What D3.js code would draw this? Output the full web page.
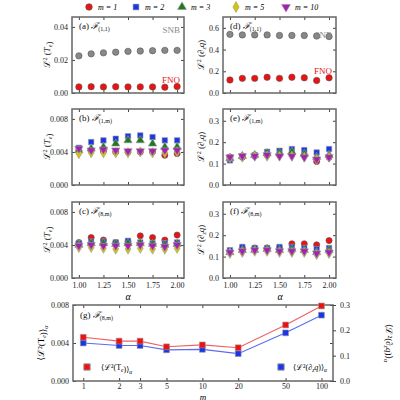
<!DOCTYPE html>
<html><head><meta charset="utf-8">
<script src="https://cdn.jsdelivr.net/npm/d3@7"></script>
<style>body{margin:0;background:#fff}text{font-family:"Liberation Serif","DejaVu Serif",serif}</style>
</head><body><svg id="c" width="400" height="400"></svg>
<script>
const alphas = [1, 1.125, 1.25, 1.375, 1.5, 1.625, 1.75, 1.875, 2];
const mLabels = ['m = 1', 'm = 2', 'm = 3', 'm = 5', 'm = 10'];
const snbT = [0.0225,0.0237,0.0243,0.0247,0.0252,0.0254,0.0256,0.0258,0.0258];
const fnoT = [0.0037,0.0038,0.0037,0.0038,0.0037,0.0037,0.0037,0.0035,0.0039];
const snbQ = [0.54,0.535,0.535,0.535,0.53,0.53,0.53,0.525,0.52];
const fnoQ = [0.12,0.135,0.135,0.145,0.135,0.145,0.14,0.115,0.14];
// order m=1,2,3,5,10
const bT = [
 [0.0042,0.0042,0.0041,0.0040,0.0040,0.0040,0.0040,0.0036,0.0038],
 [0.0045,0.0052,0.0054,0.0056,0.0059,0.0060,0.0058,0.0054,0.0054],
 [0.0042,0.0044,0.0046,0.0050,0.0054,0.0054,0.0050,0.0046,0.0046],
 [0.0038,0.0039,0.0039,0.0039,0.0039,0.0040,0.0039,0.0039,0.0040],
 [0.0044,0.0042,0.0043,0.0042,0.0041,0.0041,0.0041,0.0042,0.0042]];
const cT = [
 [0.0043,0.0049,0.0046,0.0043,0.0044,0.0051,0.0049,0.0046,0.0052],
 [0.0042,0.0044,0.0044,0.0043,0.0045,0.0043,0.0042,0.0042,0.0043],
 [0.0040,0.0042,0.0042,0.0041,0.0042,0.0042,0.0041,0.0040,0.0041],
 [0.0037,0.0037,0.0036,0.0035,0.0035,0.0036,0.0035,0.0035,0.0036],
 [0.0039,0.0040,0.0039,0.0039,0.0039,0.0040,0.0039,0.0038,0.0040]];
const eQ = [
 [0.13,0.13,0.135,0.14,0.14,0.145,0.14,0.11,0.13],
 [0.115,0.135,0.14,0.155,0.16,0.168,0.163,0.152,0.168],
 [0.125,0.135,0.14,0.148,0.15,0.155,0.145,0.13,0.14],
 [0.125,0.13,0.135,0.135,0.135,0.135,0.13,0.12,0.13],
 [0.13,0.135,0.135,0.14,0.135,0.135,0.13,0.12,0.13]];
const fQ = [
 [0.125,0.14,0.14,0.14,0.14,0.16,0.16,0.155,0.175],
 [0.13,0.145,0.14,0.14,0.145,0.145,0.14,0.135,0.14],
 [0.12,0.13,0.13,0.135,0.13,0.135,0.13,0.12,0.13],
 [0.115,0.12,0.125,0.125,0.12,0.12,0.12,0.11,0.115],
 [0.12,0.125,0.13,0.13,0.125,0.125,0.125,0.115,0.12]];
const mVals = [1, 2, 3, 5, 10, 20, 50, 100];
const gT = [0.0046,0.0042,0.0042,0.0036,0.0038,0.0035,0.0059,0.0079];
const gQ = [0.15,0.14,0.14,0.123,0.125,0.108,0.19,0.26];

const colors = ['#ee1111','#1a35e8','#1f7a1f','#d8c400','#a51fb0'];
const shapes = [d3.symbolCircle, d3.symbolSquare, d3.symbolTriangle, d3.symbolDiamond, 'tri-down'];
const svg = d3.select('#c');

function marker(g, k, x, y, size) {
  const down = shapes[k] === 'tri-down';
  g.append('path').attr('d', d3.symbol(down ? d3.symbolTriangle : shapes[k], size)())
    .attr('transform', `translate(${x},${y})` + (down ? ' rotate(180)' : ''))
    .attr('fill', colors[k]).attr('stroke', shapes[k] === d3.symbolCircle ? '#555' : '#999').attr('stroke-width', 0.6);
}

function frame(x0, y0, w, h, x, y, yTicks, yFmt, showX, xTicks, xFmt) {
  const g = svg.append('g');
  const ax = (gen, tx, ty, ticks, fmt, show) => {
    const a = g.append('g').attr('transform', `translate(${tx},${ty})`)
      .call(gen.tickValues(ticks).tickSizeInner(-3).tickSizeOuter(0).tickPadding(4).tickFormat(show ? fmt : ''));
    a.select('.domain').remove();
    a.selectAll('line').attr('stroke', '#444');
    a.selectAll('text').attr('font-size', 8).attr('fill', '#222');
  };
  ax(d3.axisLeft(y), x0, 0, yTicks, yFmt, true);
  ax(d3.axisRight(y), x0 + w, 0, yTicks, yFmt, false);
  ax(d3.axisBottom(x), 0, y0 + h, xTicks, xFmt, showX);
  ax(d3.axisTop(x), 0, y0, xTicks, xFmt, false);
  g.append('rect').attr('x', x0).attr('y', y0).attr('width', w).attr('height', h)
    .attr('fill', 'none').attr('stroke', '#666').attr('stroke-width', 1.5);
  return g;
}

function label(g, x, y, tag, sub) {
  const t = g.append('text').attr('x', x).attr('y', y).attr('font-size', 9).attr('fill', '#111');
  t.append('tspan').text(tag + '   ');
  t.append('tspan').attr('font-style', 'italic').text('ℱ');
  t.append('tspan').attr('font-size', 6).attr('dy', 2).text(sub);
}

function ylab(x, y, inner) {
  const t = svg.append('text').attr('transform', `translate(${x},${y}) rotate(-90)`)
    .attr('text-anchor', 'middle').attr('font-size', 9).attr('fill', '#111');
  t.append('tspan').text('ℒ');
  t.append('tspan').attr('font-size', 6).attr('dy', -3).text('2');
  t.append('tspan').attr('dy', 3).text(' (');
  t.append('tspan').attr('font-style', 'italic').text(inner[0]);
  t.append('tspan').attr('font-size', 6).attr('dy', 2).attr('font-style', 'italic').text(inner[1]);
  t.append('tspan').attr('dy', -2).attr('font-style', 'italic').text(inner[2] || '');
  t.append('tspan').text(')');
}

function avgLab(t, v, sub, small) {
  t.append('tspan').text('⟨ℒ²(' + v);
  t.append('tspan').attr('font-size', small).attr('dy', 2).attr('font-style', 'italic').text(sub[0]);
  t.append('tspan').attr('dy', -2).attr('font-style', 'italic').text(sub[1] || '');
  t.append('tspan').text(')⟩');
  t.append('tspan').attr('font-size', small).attr('dy', 2).attr('font-style', 'italic').text('α');
}

const xTicks = [1, 1.25, 1.5, 1.75, 2];
const xFmt = d3.format('.2f');
const cols = [{x0: 72, w: 112}, {x0: 223, w: 113}];
const rows = [{y0: 17, h: 76}, {y0: 109, h: 76}, {y0: 202, h: 76}];

function xs(c) { return d3.scaleLinear().domain([0.93, 2.07]).range([c.x0, c.x0 + c.w]); }
function ys(r, max) { return d3.scaleLinear().domain([0, max]).range([r.y0 + r.h, r.y0]); }

// (a) and (d)
[[0, snbT, fnoT, 0.046, [0, 0.02, 0.04], d3.format('.2f'), '(a)', 8],
 [1, snbQ, fnoQ, 0.7, [0, 0.2, 0.4, 0.6], d3.format('.1f'), '(d)', 13]].forEach(([ci, snb, fno, max, yt, yf, tag, off]) => {
  const c = cols[ci], r = rows[0], x = xs(c), y = ys(r, max);
  const g = frame(c.x0, r.y0, c.w, r.h, x, y, yt, yf, false, xTicks, xFmt);
  alphas.forEach((a, i) => {
    g.append('circle').attr('cx', x(a)).attr('cy', y(snb[i])).attr('r', 3.2).attr('fill', '#888').attr('stroke', '#555').attr('stroke-width', 0.6);
    g.append('circle').attr('cx', x(a)).attr('cy', y(fno[i])).attr('r', 3.2).attr('fill', colors[0]).attr('stroke', '#555').attr('stroke-width', 0.6);
  });
  label(g, c.x0 + 7, r.y0 + 12, tag, '(1,1)');
  g.append('text').attr('x', c.x0 + c.w - 4).attr('y', r.y0 + off + 8).attr('text-anchor', 'end').attr('font-size', 9).attr('fill', '#888').text('SNB');
  g.append('text').attr('x', c.x0 + c.w - 4).attr('y', y(fno[8]) - 4).attr('text-anchor', 'end').attr('font-size', 9).attr('fill', colors[0]).text('FNO');
});

[[0, 1, bT, 0.0092, [0, 0.004, 0.008], d3.format('.3f'), '(b)', '(1,m)'],
 [0, 2, cT, 0.0092, [0, 0.004, 0.008], d3.format('.3f'), '(c)', '(8,m)'],
 [1, 1, eQ, 0.355, [0, 0.1, 0.2, 0.3], d3.format('.1f'), '(e)', '(1,m)'],
 [1, 2, fQ, 0.355, [0, 0.1, 0.2, 0.3], d3.format('.1f'), '(f)', '(8,m)']].forEach(([ci, ri, data, max, yt, yf, tag, sub]) => {
  const c = cols[ci], r = rows[ri], x = xs(c), y = ys(r, max);
  const g = frame(c.x0, r.y0, c.w, r.h, x, y, yt, yf, ri === 2, xTicks, xFmt);
  [0, 1, 2, 3, 4].forEach(k => alphas.forEach((a, i) => marker(g, k, x(a), y(data[k][i]), 30)));
  label(g, c.x0 + 7, r.y0 + 12, tag, sub);
});

ylab(50, 55, ['T', 'e']); ylab(50, 147, ['T', 'e']); ylab(50, 240, ['T', 'e']);
ylab(204, 55, ['∂', 'z', 'q']); ylab(204, 147, ['∂', 'z', 'q']); ylab(204, 240, ['∂', 'z', 'q']);
svg.append('text').attr('x', 128).attr('y', 300).attr('text-anchor', 'middle').attr('font-size', 10).attr('font-style', 'italic').text('α');
svg.append('text').attr('x', 280).attr('y', 300).attr('text-anchor', 'middle').attr('font-size', 10).attr('font-style', 'italic').text('α');

// legend
const legX = [89, 136, 182, 236, 286];
mLabels.forEach((l, k) => {
  const g = svg.append('g');
  marker(g, k, legX[k], 7, 34);
  g.append('text').attr('x', legX[k] + 9).attr('y', 10).attr('font-size', 8).attr('font-style', 'italic').text(l);
});

// (g)
const gx = d3.scaleLog().domain([0.82, 125]).range([73, 333]);
const gyL = d3.scaleLinear().domain([0, 0.008]).range([381, 305]);
const gyR = d3.scaleLinear().domain([0, 0.3]).range([381, 305]);
const gg = frame(73, 305, 260, 76, gx, gyL, [0, 0.004, 0.008], d3.format('.3f'), true, mVals, d3.format('d'));
gg.selectAll('text').filter(function() { return this.textContent.match(/^\d+$/); }).attr('dy', '0.55em');
const ra = gg.append('g').attr('transform', 'translate(333,0)')
  .call(d3.axisRight(gyR).tickValues([0, 0.1, 0.2, 0.3]).tickSizeInner(3).tickSizeOuter(0).tickPadding(4).tickFormat(d3.format('.1f')));
ra.select('.domain').remove();
ra.selectAll('text').attr('font-size', 8).attr('fill', '#222');
ra.selectAll('line').attr('stroke', '#444');
gg.append('path').datum(gT).attr('fill', 'none').attr('stroke', '#f06060').attr('stroke-width', 1.1)
  .attr('d', d3.line().x((d, i) => gx(mVals[i])).y(d => gyL(d)));
gg.append('path').datum(gQ).attr('fill', 'none').attr('stroke', '#5a6cf0').attr('stroke-width', 1.1)
  .attr('d', d3.line().x((d, i) => gx(mVals[i])).y(d => gyR(d)));
mVals.forEach((m, i) => {
  marker(gg, 1, gx(m), gyR(gQ[i]), 34);
  gg.append('path').attr('d', d3.symbol(d3.symbolSquare, 34)()).attr('transform', `translate(${gx(m)},${gyL(gT[i])})`)
    .attr('fill', colors[0]).attr('stroke', '#999').attr('stroke-width', 0.6);
});
label(gg, 80, 318, '(g)', '(8,m)');
gg.append('path').attr('d', d3.symbol(d3.symbolSquare, 40)()).attr('transform', 'translate(87,367)').attr('fill', colors[0]).attr('stroke', '#999');
avgLab(gg.append('text').attr('x', 101).attr('y', 370).attr('font-size', 8), 'T', ['e'], 5.5);
gg.append('path').attr('d', d3.symbol(d3.symbolSquare, 40)()).attr('transform', 'translate(281,367)').attr('fill', colors[1]).attr('stroke', '#999');
avgLab(gg.append('text').attr('x', 293).attr('y', 370).attr('font-size', 8), '∂', ['z', 'q'], 5.5);
svg.append('text').attr('x', 203).attr('y', 400).attr('text-anchor', 'middle').attr('font-size', 9).attr('font-style', 'italic').text('m');
avgLab(svg.append('text').attr('transform', 'translate(44,343) rotate(-90)').attr('text-anchor', 'middle').attr('font-size', 9), 'T', ['e'], 6);
avgLab(svg.append('text').attr('transform', 'translate(386,343) rotate(90)').attr('text-anchor', 'middle').attr('font-size', 9), '∂', ['z', 'q'], 6);
</script></body></html>
